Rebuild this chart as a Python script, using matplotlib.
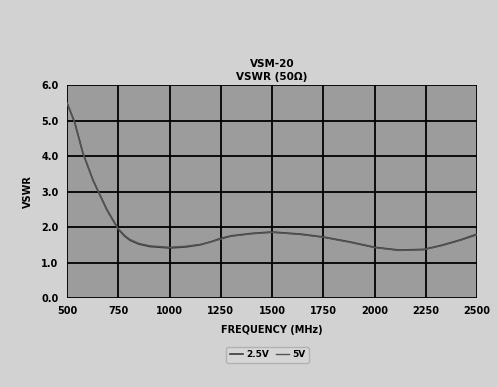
import matplotlib
matplotlib.use("Agg")
import matplotlib.pyplot as plt
import numpy as np

freq = [500, 537, 578, 627, 695, 749, 780, 807, 850, 905, 1000, 1080, 1150, 1200, 1250, 1300, 1400, 1500, 1640, 1750, 1880, 2000, 2120, 2240, 2330, 2420, 2500]
vswr_25v = [5.5, 4.96, 4.08, 3.32, 2.48, 1.95, 1.75, 1.63, 1.52, 1.45, 1.41, 1.44, 1.5, 1.58, 1.68, 1.75, 1.82, 1.86, 1.8, 1.72, 1.58, 1.43, 1.35, 1.37, 1.49, 1.64, 1.8]
vswr_5v = [5.5, 4.96, 4.08, 3.32, 2.49, 1.96, 1.77, 1.65, 1.54, 1.47, 1.43, 1.46, 1.51, 1.58, 1.66, 1.74, 1.81, 1.85, 1.79, 1.71, 1.57, 1.42, 1.34, 1.36, 1.48, 1.63, 1.78]
xticks = [500, 750, 1000, 1250, 1500, 1750, 2000, 2250, 2500]
yticks = [0.0, 1.0, 2.0, 3.0, 4.0, 5.0, 6.0]

fig = plt.figure(figsize=(4.98, 3.87), dpi=100)
fig.patch.set_facecolor("#d2d2d2")
ax = fig.add_axes([0.1345, 0.230, 0.8235, 0.550])
ax.set_facecolor("#9c9c9c")

ax.plot(freq, vswr_25v, color="#3a3a3a", lw=1.2, label="2.5V")
ax.plot(freq, vswr_5v, color="#555555", lw=1.0, label="5V")

ax.set_xlim(500, 2500)
ax.set_ylim(0, 6)
ax.set_xticks(xticks)
ax.set_yticks(yticks)
ax.set_xticklabels([str(t) for t in xticks], fontsize=7, fontweight="bold")
ax.set_yticklabels([f"{t:.1f}" for t in yticks], fontsize=7, fontweight="bold")
ax.grid(True, color="black", lw=1.3)
ax.tick_params(length=0, pad=6)
for s in ax.spines.values():
    s.set_visible(False)

ax.set_xlabel("FREQUENCY (MHz)", fontsize=7, fontweight="bold", labelpad=6)
ax.set_ylabel("VSWR", fontsize=7, fontweight="bold", labelpad=6)
ax.set_title("VSM-20\nVSWR (50Ω)", fontsize=7.5, fontweight="bold", pad=4, linespacing=1.3)

leg = fig.legend(loc="center", bbox_to_anchor=(0.537, 0.083), ncol=2, fontsize=6.5,
                 frameon=True, handlelength=1.5, columnspacing=0.8, handletextpad=0.3,
                 borderpad=0.4)
leg.get_frame().set_facecolor("#d8d8d8")
leg.get_frame().set_edgecolor("#aaaaaa")
for t in leg.get_texts():
    t.set_fontweight("bold")

fig.savefig("out.png", dpi=100, facecolor=fig.get_facecolor())
